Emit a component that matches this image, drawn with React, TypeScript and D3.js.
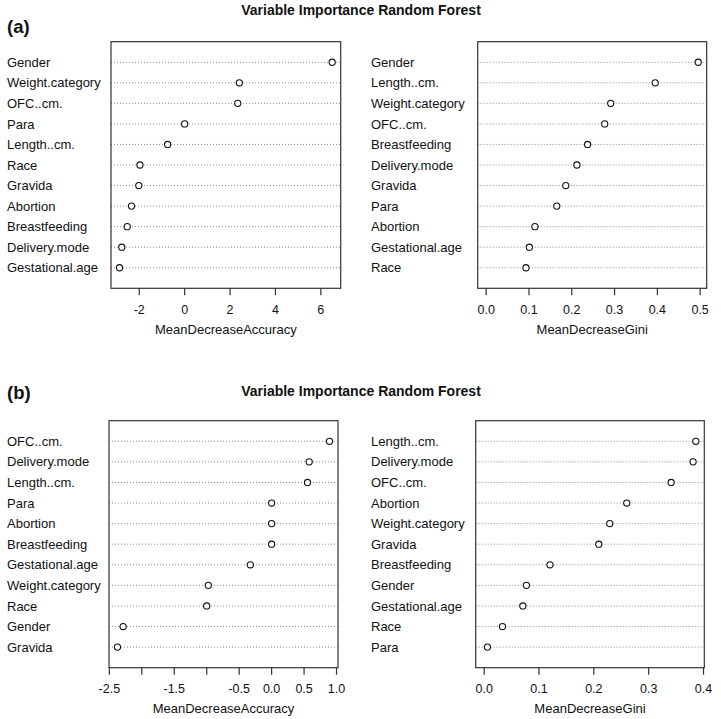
import React from "react";
import * as d3 from "d3";

// ---- Data ----
const aAccLabels = ["Gender", "Weight.category", "OFC..cm.", "Para", "Length..cm.", "Race", "Gravida", "Abortion", "Breastfeeding", "Delivery.mode", "Gestational.age"];
const aAccValues = [6.5, 2.41, 2.34, 0.0, -0.75, -1.97, -2.02, -2.34, -2.53, -2.77, -2.87];
const aAccTicks = [-2, 0, 2, 4, 6];
const aAccTickLabels = ["-2", "0", "2", "4", "6"];

const aGiniLabels = ["Gender", "Length..cm.", "Weight.category", "OFC..cm.", "Breastfeeding", "Delivery.mode", "Gravida", "Para", "Abortion", "Gestational.age", "Race"];
const aGiniValues = [0.4955, 0.395, 0.291, 0.277, 0.237, 0.212, 0.186, 0.165, 0.114, 0.101, 0.093];
const aGiniTicks = [0, 0.1, 0.2, 0.3, 0.4, 0.5];
const aGiniTickLabels = ["0.0", "0.1", "0.2", "0.3", "0.4", "0.5"];

const bAccLabels = ["OFC..cm.", "Delivery.mode", "Length..cm.", "Para", "Abortion", "Breastfeeding", "Gestational.age", "Weight.category", "Race", "Gender", "Gravida"];
const bAccValues = [0.892, 0.579, 0.553, 0.0, 0.0, 0.0, -0.328, -0.975, -1.0, -2.288, -2.375];
const bAccTicks = [-2.5, -2, -1.5, -1, -0.5, 0, 0.5, 1];
const bAccTickLabels = ["-2.5", "", "-1.5", "", "-0.5", "0.0", "0.5", "1.0"];

const bGiniLabels = ["Length..cm.", "Delivery.mode", "OFC..cm.", "Abortion", "Weight.category", "Gravida", "Breastfeeding", "Gender", "Gestational.age", "Race", "Para"];
const bGiniValues = [0.386, 0.381, 0.341, 0.26, 0.229, 0.209, 0.12, 0.077, 0.0705, 0.0334, 0.006];
const bGiniTicks = [0, 0.1, 0.2, 0.3, 0.4];
const bGiniTickLabels = ["0.0", "0.1", "0.2", "0.3", "0.4"];

const chartTitle = "Variable Importance Random Forest";
const accTitle = "MeanDecreaseAccuracy";
const giniTitle = "MeanDecreaseGini";

const FONT = "'Liberation Sans', Arial, Helvetica, sans-serif";

type PanelProps = {
  labels: string[];
  values: number[];
  ticks: number[];
  tickLabels: string[];
  axisTitle: string;
  zeroMin: boolean;
  x0: number;
  x1: number;
  y0: number;
  y1: number;
  labelX: number;
};

function Panel(p: PanelProps) {
  const n = p.values.length;
  const mn = p.zeroMin ? 0 : (d3.min(p.values) as number);
  const mx = d3.max(p.values) as number;
  const pad = (mx - mn) * 0.04;
  const x = d3.scaleLinear().domain([mn - pad, mx + pad]).range([p.x0, p.x1]);
  const y = d3.scaleLinear().domain([0, n + 1]).range([p.y1, p.y0]);
  const rowY = (i: number) => y(n - i);
  return (
    <g>
      {p.labels.map((lab, i) => (
        <g key={lab}>
          <line
            x1={p.x0}
            x2={p.x1}
            y1={rowY(i)}
            y2={rowY(i)}
            stroke="#8c8c8c"
            strokeWidth={1}
            strokeDasharray="1,2"
          />
          <text x={p.labelX} y={rowY(i) + 4.6} fontSize={13} fontFamily={FONT} fill="#111">
            {lab}
          </text>
        </g>
      ))}
      {p.values.map((v, i) => (
        <circle key={i} cx={x(v)} cy={rowY(i)} r={3.1} fill="white" stroke="#111" strokeWidth={1.1} />
      ))}
      <rect x={p.x0} y={p.y0} width={p.x1 - p.x0} height={p.y1 - p.y0} fill="none" stroke="#333" strokeWidth={1.2} />
      {p.ticks.map((t, i) => (
        <g key={i}>
          <line x1={x(t)} x2={x(t)} y1={p.y1} y2={p.y1 + 7} stroke="#333" strokeWidth={1.2} />
          <text x={x(t)} y={p.y1 + 25.5} textAnchor="middle" fontSize={12.5} fontFamily={FONT} fill="#111">
            {p.tickLabels[i]}
          </text>
        </g>
      ))}
      <text x={(p.x0 + p.x1) / 2} y={p.y1 + 45.7} textAnchor="middle" fontSize={13} fontFamily={FONT} fill="#111">
        {p.axisTitle}
      </text>
    </g>
  );
}

export default function App() {
  return (
    <svg width={721} height={719} style={{ position: "absolute", left: 0, top: 0, background: "white" }}>
      <rect x={0} y={0} width={721} height={719} fill="white" />
      <text x={361} y={15} textAnchor="middle" fontSize={14} fontWeight="bold" fontFamily={FONT} fill="#111">
        {chartTitle}
      </text>
      <text x={7} y={33} fontSize={18.5} fontWeight="bold" fontFamily={FONT} fill="#111">
        (a)
      </text>
      <Panel labels={aAccLabels} values={aAccValues} ticks={aAccTicks} tickLabels={aAccTickLabels} axisTitle={accTitle} zeroMin={false} x0={111} x1={340.7} y0={41.7} y1={288.3} labelX={7} />
      <Panel labels={aGiniLabels} values={aGiniValues} ticks={aGiniTicks} tickLabels={aGiniTickLabels} axisTitle={giniTitle} zeroMin={true} x0={477.7} x1={706.7} y0={41.7} y1={288.3} labelX={371} />

      <text x={361} y={396} textAnchor="middle" fontSize={14} fontWeight="bold" fontFamily={FONT} fill="#111">
        {chartTitle}
      </text>
      <text x={7} y={399} fontSize={18.5} fontWeight="bold" fontFamily={FONT} fill="#111">
        (b)
      </text>
      <Panel labels={bAccLabels} values={bAccValues} ticks={bAccTicks} tickLabels={bAccTickLabels} axisTitle={accTitle} zeroMin={false} x0={109} x1={338} y0={420.7} y1={667.7} labelX={7} />
      <Panel labels={bGiniLabels} values={bGiniValues} ticks={bGiniTicks} tickLabels={bGiniTickLabels} axisTitle={giniTitle} zeroMin={true} x0={475.7} x1={704.3} y0={420.7} y1={667.7} labelX={371} />
    </svg>
  );
}
